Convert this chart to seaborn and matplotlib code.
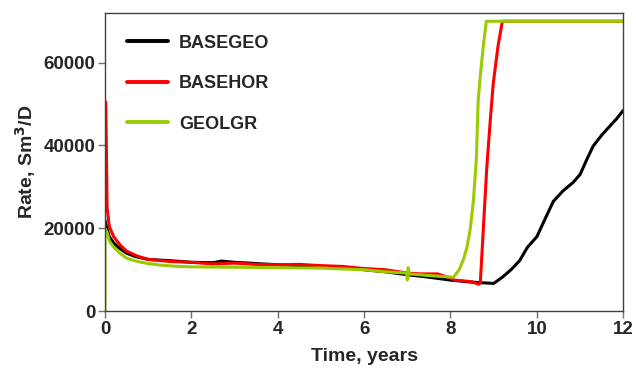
import numpy as np
import pandas as pd
import matplotlib
matplotlib.use('Agg')
import matplotlib.pyplot as plt
import seaborn as sns

# values
t_basegeo = [0.0, 0.02, 0.1, 0.2, 0.3, 0.5, 0.7, 1.0, 1.5, 2.0, 2.5, 2.7, 3.0, 3.5, 4.0, 4.5, 5.0, 5.5,
             6.0, 6.5, 7.0, 7.5, 8.0, 8.5, 9.0, 9.2, 9.4, 9.6, 9.78, 10.0, 10.2, 10.38, 10.6, 10.84,
             11.0, 11.15, 11.3, 11.5, 11.7, 11.85, 12.0]
q_basegeo = [22000, 21000, 18000, 16500, 15500, 14000, 13200, 12500, 12200, 11800, 11700, 12100, 11800,
             11500, 11200, 11000, 10800, 10600, 10000, 9500, 8800, 8200, 7500, 7000, 6700, 8200, 10000,
             12200, 15400, 18000, 22500, 26500, 29000, 31100, 33000, 36500, 39800, 42500, 44800, 46500,
             48500]

t_basehor = [0.0, 0.02, 0.05, 0.1, 0.2, 0.35, 0.5, 0.75, 1.0, 1.5, 2.0, 2.5, 3.0, 3.5, 4.0, 4.5, 5.0,
             5.5, 6.0, 6.5, 7.0, 7.3, 7.7, 8.0, 8.1, 8.5, 8.65, 8.69, 8.75, 8.84, 8.92, 8.99, 9.1, 9.2,
             12.0]
q_basehor = [50500, 50500, 25000, 20500, 18000, 16000, 14500, 13300, 12500, 12000, 11800, 11400, 11600,
             11300, 11200, 11300, 11000, 10800, 10300, 10000, 9200, 9000, 9000, 8000, 7500, 7100, 6500,
             6800, 18000, 34700, 46000, 55000, 64000, 70000, 70000]

t_geolgr = [0.0, 0.0, 0.05, 0.1, 0.2, 0.35, 0.5, 0.75, 1.0, 1.3, 1.7, 2.0, 3.0, 4.0, 5.0, 6.0, 6.5,
            6.98, 7.0, 7.02, 7.04, 7.5, 8.07, 8.2, 8.3, 8.38, 8.46, 8.53, 8.6, 8.64, 8.7, 8.77, 8.83, 12.0]
q_geolgr = [0, 20000, 19000, 17000, 15500, 14000, 12800, 12000, 11500, 11100, 10800, 10700, 10600,
            10500, 10400, 10000, 9500, 9200, 7500, 10500, 9000, 8600, 8200, 10000, 12500, 15400, 20000,
            26700, 37000, 50800, 58000, 65000, 70000, 70000]

series = ['BASEGEO', 'BASEHOR', 'GEOLGR']
colors = ['black', '#ff0000', '#99cc00']

df = pd.concat([
    pd.DataFrame({'Time': t_basegeo, 'Rate': q_basegeo, 'Case': 'BASEGEO'}),
    pd.DataFrame({'Time': t_basehor, 'Rate': q_basehor, 'Case': 'BASEHOR'}),
    pd.DataFrame({'Time': t_geolgr, 'Rate': q_geolgr, 'Case': 'GEOLGR'}),
], ignore_index=True)

sns.set_style('white')
plt.rcParams['font.family'] = ['Liberation Sans', 'DejaVu Sans']
plt.rcParams['font.weight'] = 'bold'
plt.rcParams['mathtext.default'] = 'bf'

fig = plt.figure(figsize=(6.36, 3.70), dpi=100)
ax = fig.add_axes([0.165, 0.159, 0.815, 0.806])

sns.lineplot(data=df, x='Time', y='Rate', hue='Case', hue_order=series,
             palette=colors, sort=False, estimator=None, linewidth=2.2, ax=ax)

ax.set_xlim(0, 12)
ax.set_ylim(0, 72000)
ax.set_xticks([0, 2, 4, 6, 8, 10, 12])
ax.set_yticks([0, 20000, 40000, 60000])
ax.set_xlabel('Time, years', fontsize=14, fontweight='bold', labelpad=7)
ax.set_ylabel('Rate, Sm$^3$/D', fontsize=14, fontweight='bold', labelpad=4)
ax.tick_params(axis='both', labelsize=13.5, length=5, width=1, color='#707070', direction='out',
               bottom=True, left=True, pad=2)
for lab in ax.get_xticklabels() + ax.get_yticklabels():
    lab.set_fontweight('bold')
for s in ax.spines.values():
    s.set_color('#404040')
    s.set_linewidth(1.0)

leg = ax.legend(frameon=False, loc='upper left', handlelength=2.3,
                labelspacing=1.3, borderaxespad=0.7, borderpad=0.5, handletextpad=0.6,
                prop={'weight': 'bold', 'size': 13})
for line in leg.get_lines():
    line.set_linewidth(2.8)

fig.savefig('out.png', dpi=100)
